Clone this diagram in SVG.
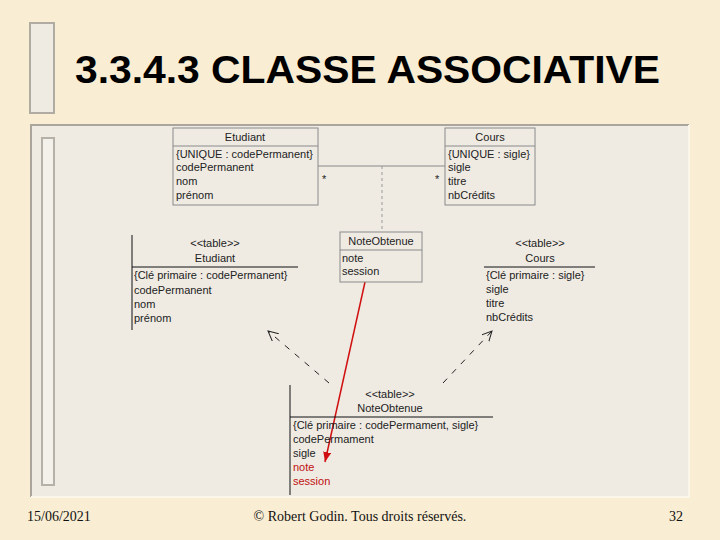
<svg xmlns="http://www.w3.org/2000/svg" width="720" height="540" viewBox="0 0 720 540">
<style>
.t{font-family:"Liberation Sans",Arial,sans-serif;font-size:11px;fill:#222}
.c{text-anchor:middle}
.r{fill:#c01010}
.box{fill:none;stroke:#8a8a8a;stroke-width:1}
.ln{stroke:#111;stroke-width:1;fill:none}
.dash{stroke:#222;stroke-width:1;fill:none;stroke-dasharray:6,7}
.ft{font-family:"Liberation Serif","Times New Roman",serif;font-size:14px;fill:#111}
</style>
<defs>
<marker id="open" markerWidth="12" markerHeight="12" refX="10" refY="5" orient="auto" markerUnits="userSpaceOnUse">
<path d="M0,0 L10,5 L0,10" fill="none" stroke="#222" stroke-width="1"/>
</marker>
<marker id="red" markerWidth="12" markerHeight="12" refX="10" refY="4" orient="auto" markerUnits="userSpaceOnUse">
<path d="M0,0 L10,4 L0,8 Z" fill="#d01010"/>
</marker>
</defs>
<rect width="720" height="540" fill="#f9edd3"/>
<g id="titlebar">
<rect x="30" y="23" width="24" height="90" fill="#efebe2" stroke="#b0aca4" stroke-width="2"/>
</g>
<text x="75" y="83" font-family="'Liberation Sans',Arial,sans-serif" font-weight="bold" font-size="38" fill="#000" textLength="585" lengthAdjust="spacingAndGlyphs">3.3.4.3 CLASSE ASSOCIATIVE</text>
<g id="panel">
<rect x="31" y="125" width="658" height="372" fill="#efebe3"/>
<path d="M31,497 V125 H689" stroke="#aaa69e" stroke-width="2" fill="none"/>
<path d="M689,125 V497 H31" stroke="#fbf6ea" stroke-width="2" fill="none"/>
<rect x="42" y="138" width="12" height="347" fill="#f4f1ea" stroke="#b5b1a9" stroke-width="2"/>
</g>
<g id="connectors">
<line x1="318" y1="166" x2="445" y2="166" stroke="#888" stroke-width="1"/>
<line x1="382" y1="166" x2="382" y2="232" stroke="#999" stroke-width="1" stroke-dasharray="3,3"/>
<text class="t" x="322" y="183">*</text>
<text class="t" x="435" y="183">*</text>
<line class="dash" x1="329" y1="383" x2="268" y2="331" marker-end="url(#open)"/>
<line class="dash" x1="443" y1="383" x2="492" y2="331" marker-end="url(#open)"/>
<line x1="365" y1="282" x2="325" y2="462" stroke="#d01010" stroke-width="1.5" marker-end="url(#red)"/>
</g>
<g id="class-etudiant">
<rect class="box" x="173" y="128" width="145" height="77"/>
<line class="box" x1="173" y1="146" x2="318" y2="146"/>
<text class="t c" x="245" y="141">Etudiant</text>
<text class="t" x="176" y="158">{UNIQUE : codePermanent}</text>
<text class="t" x="176" y="171">codePermanent</text>
<text class="t" x="176" y="185">nom</text>
<text class="t" x="176" y="199">prénom</text>
</g>
<g id="class-cours">
<rect class="box" x="445" y="128" width="90" height="77"/>
<line class="box" x1="445" y1="146" x2="535" y2="146"/>
<text class="t c" x="490" y="141">Cours</text>
<text class="t" x="448" y="158">{UNIQUE : sigle}</text>
<text class="t" x="448" y="171">sigle</text>
<text class="t" x="448" y="185">titre</text>
<text class="t" x="448" y="199">nbCrédits</text>
</g>
<g id="class-noteobtenue">
<rect class="box" x="340" y="232" width="82" height="50"/>
<line class="box" x1="340" y1="250" x2="422" y2="250"/>
<text class="t c" x="381" y="245">NoteObtenue</text>
<text class="t" x="342" y="262">note</text>
<text class="t" x="342" y="275">session</text>
</g>
<g id="table-etudiant">
<line class="ln" x1="132" y1="235" x2="132" y2="330"/>
<line class="ln" x1="132" y1="267" x2="298" y2="267"/>
<text class="t c" x="215" y="247">&lt;&lt;table&gt;&gt;</text>
<text class="t c" x="215" y="262">Etudiant</text>
<text class="t" x="134" y="279">{Clé primaire : codePermanent}</text>
<text class="t" x="134" y="294">codePermanent</text>
<text class="t" x="134" y="308">nom</text>
<text class="t" x="134" y="322">prénom</text>
</g>
<g id="table-cours">
<line class="ln" x1="484" y1="267" x2="595" y2="267"/>
<text class="t c" x="540" y="247">&lt;&lt;table&gt;&gt;</text>
<text class="t c" x="540" y="262">Cours</text>
<text class="t" x="486" y="279">{Clé primaire : sigle}</text>
<text class="t" x="486" y="293">sigle</text>
<text class="t" x="486" y="307">titre</text>
<text class="t" x="486" y="321">nbCrédits</text>
</g>
<g id="table-noteobtenue">
<line class="ln" x1="290" y1="385" x2="290" y2="495"/>
<line class="ln" x1="290" y1="417" x2="493" y2="417"/>
<text class="t c" x="390" y="398">&lt;&lt;table&gt;&gt;</text>
<text class="t c" x="390" y="412">NoteObtenue</text>
<text class="t" x="293" y="429">{Clé primaire : codePermament, sigle}</text>
<text class="t" x="293" y="443">codePermament</text>
<text class="t" x="293" y="457">sigle</text>
<text class="t r" x="293" y="471">note</text>
<text class="t r" x="293" y="485">session</text>
</g>
<g id="footer">
<text class="ft" x="27" y="521">15/06/2021</text>
<text class="ft" x="360" y="521" text-anchor="middle">© Robert Godin. Tous droits réservés.</text>
<text class="ft" x="683" y="521" text-anchor="end">32</text>
</g>
</svg>
